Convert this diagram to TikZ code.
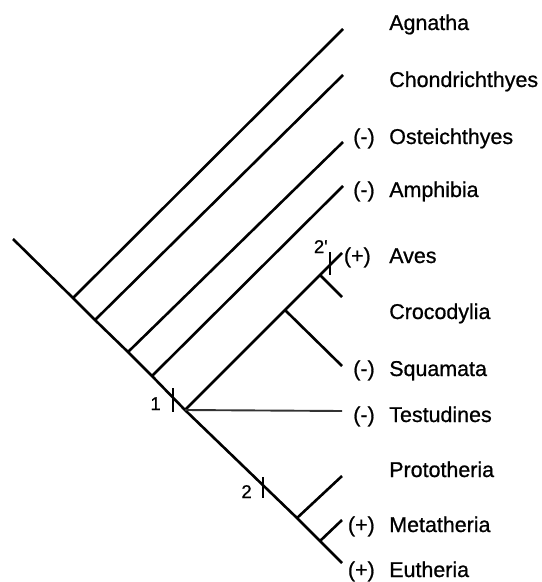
\documentclass[tikz,border=0pt]{standalone}
\usepackage{fontspec}
\setmainfont{Liberation Sans}[BoldFont={Liberation Sans}, BoldFeatures={FakeBold=0.8}]

\begin{document}
\begin{tikzpicture}[
x=1bp, y=-1bp,
line width=2.6bp,
every node/.style={font=\bfseries\fontsize{21.5}{24}\selectfont, inner sep=0pt},
taxon/.style={anchor=base west},
sign/.style={anchor=base east},
num/.style={font=\bfseries\fontsize{18.5}{20}\selectfont, anchor=base east},
tick/.style={line width=2.2bp},
faint/.style={line width=1.9bp, draw=black!80}
]
\useasboundingbox (0,0) rectangle (542,582);

% points on the main stem
\coordinate (root) at (13,239);
\coordinate (agb) at (73,298);
\coordinate (chb) at (95,320);
\coordinate (osb) at (128,352);
\coordinate (amb) at (152,376);
\coordinate (n1) at (185,410);
\coordinate (mam) at (297,518);
\coordinate (met) at (320,541);
\coordinate (eut) at (342,563);

% inner clade
\coordinate (squ) at (285,310);
\coordinate (cro) at (320,275);

% tips
\coordinate (agt) at (343,29);
\coordinate (cht) at (343,75);
\coordinate (ost) at (343,142);
\coordinate (amt) at (343,186);
\coordinate (avt) at (342,253);
\coordinate (crt) at (342,297);
\coordinate (sqt) at (342,366);
\coordinate (tet) at (342,411);
\coordinate (prt) at (342,476);
\coordinate (mtt) at (342,520);

\draw (root) -- (agb) -- (chb) -- (osb) -- (amb) -- (n1) -- (mam) -- (met) -- (eut);
\draw (agb) -- (agt);
\draw (chb) -- (cht);
\draw (osb) -- (ost);
\draw (amb) -- (amt);
\draw (n1) -- (cro) -- (avt);
\draw (cro) -- (crt);
\draw (squ) -- (sqt);
\draw[faint] (n1) -- (tet);
\draw (mam) -- (prt);
\draw (met) -- (mtt);

% character changes
\draw[tick] (173,388) coordinate (k1a) -- (173,412) coordinate (k1b);
\draw[tick] (263,477) coordinate (k2a) -- (263,498) coordinate (k2b);
\draw[tick] (330,252) coordinate (k3a) -- (330,275) coordinate (k3b);
\node[num] (m1) at (162,410) {1};
\node[num] (m2) at (253,498) {2};
\node[num] (m3) at (329,253) {2\textquotesingle};

\foreach \y/\name in {30/Agnatha, 87/Chondrichthyes, 144/Osteichthyes, 197/Amphibia,
  263/Aves, 319/Crocodylia, 376/Squamata, 422/Testudines, 477/Prototheria,
  532/Metatheria, 577/Eutheria}{
\node[taxon] (\name) at (388,\y) {\name};
}

\foreach \x/\y/\name/\s in {376/144/Osteichthyes/(-), 376/197/Amphibia/(-), 372/263/Aves/(+),
  376/376/Squamata/(-), 376/422/Testudines/(-), 376/532/Metatheria/(+), 376/577/Eutheria/(+)}{
\node[sign] (s\name) at (\x,\y) {\s};
}
\end{tikzpicture}
\end{document}
